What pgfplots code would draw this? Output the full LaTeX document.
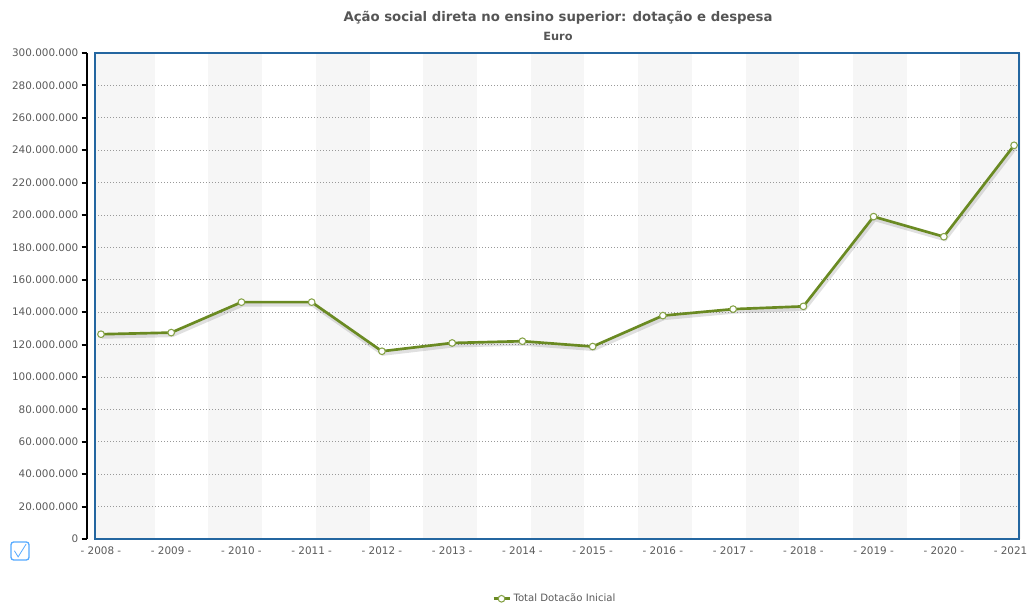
\documentclass[border=0pt]{standalone}
\usepackage{pgfplots}
\pgfplotsset{compat=1.18}
\usepackage{fontspec}
\setmainfont{DejaVu Sans}

\definecolor{titlegray}{HTML}{555555}
\definecolor{labelgray}{HTML}{5A5A5A}
\definecolor{framblue}{HTML}{2466A0}
\definecolor{olive}{HTML}{6A8A22}
\definecolor{markedge}{HTML}{86A347}
\definecolor{stripe}{HTML}{F6F6F6}
\definecolor{checkblue}{HTML}{55AAFF}

% Total Dotacao Inicial, euro
\pgfplotstableread{
year value
2008 126400000
2009 127400000
2010 146200000
2011 146200000
2012 115900000
2013 121000000
2014 122100000
2015 118800000
2016 137900000
2017 141900000
2018 143600000
2019 199000000
2020 186600000
2021 243000000
}\dotacao

\begin{document}
\begin{tikzpicture}
% titles
\node[font=\fontsize{9.95}{11}\selectfont\bfseries, text=titlegray] at (418.5pt,438.75pt)
  {Ação social direta no ensino superior: dotação e despesa};
\node[font=\fontsize{8.5}{9}\selectfont\bfseries, text=titlegray] at (418.5pt,425.25pt) {Euro};

% checkbox
\draw[checkblue, line width=1pt, rounded corners=2pt, fill=white] (8.25pt,32.25pt) rectangle (21.75pt,45.75pt);
\draw[checkblue, line width=0.6pt] (10.8pt,39.2pt) -- (13.6pt,34.6pt) -- (19.6pt,44.2pt);

% main plot area
\begin{axis}[
  set layers,
  scale only axis,
  width=693pt, height=364.5pt,
  at={(71.25pt,48pt)}, anchor=south west,
  xmin=2007.915, xmax=2021.07,
  ymin=0, ymax=300000000,
  scaled y ticks=false,
  xtick={2008,2009,2010,2011,2012,2013,2014,2015,2016,2017,2018,2019,2020,2021},
  xticklabels={- 2008 -,- 2009 -,- 2010 -,- 2011 -,- 2012 -,- 2013 -,- 2014 -,- 2015 -,- 2016 -,- 2017 -,- 2018 -,- 2019 -,- 2020 -,- 2021 -},
  xticklabel style={font=\fontsize{7.8}{9}\selectfont, text=labelgray, yshift=-2.5pt},
  xtick style={draw=none},
  ytick={0,20000000,40000000,60000000,80000000,100000000,120000000,140000000,160000000,180000000,200000000,220000000,240000000,260000000,280000000,300000000},
  yticklabels={},
  ytick style={draw=none},
  ymajorgrids,
  grid style={dash pattern=on 0.75pt off 1.5pt, gray!80, line width=0.6pt},
  axis line style={framblue, line width=1.6pt},
  legend style={at={(0.498,-0.123)}, anchor=center, draw=none, fill=none,
    font=\fontsize{7.6}{9}\selectfont, text=labelgray},
  legend image code/.code={%
    \draw[mark repeat=2, mark phase=2] plot coordinates {(0pt,0pt) (6pt,0pt) (12pt,0pt)};},
]
\begin{pgfonlayer}{axis background}
  \fill[stripe] (axis cs:2007.9,0) rectangle (axis cs:2008.7647,300000000);
  \fill[stripe] (axis cs:2009.5294,0) rectangle (axis cs:2010.2941,300000000);
  \fill[stripe] (axis cs:2011.0588,0) rectangle (axis cs:2011.8235,300000000);
  \fill[stripe] (axis cs:2012.5882,0) rectangle (axis cs:2013.3529,300000000);
  \fill[stripe] (axis cs:2014.1176,0) rectangle (axis cs:2014.8824,300000000);
  \fill[stripe] (axis cs:2015.6471,0) rectangle (axis cs:2016.4118,300000000);
  \fill[stripe] (axis cs:2017.1765,0) rectangle (axis cs:2017.9412,300000000);
  \fill[stripe] (axis cs:2018.7059,0) rectangle (axis cs:2019.4706,300000000);
  \fill[stripe] (axis cs:2020.2353,0) rectangle (axis cs:2021.1,300000000);
\end{pgfonlayer}
% soft shadow under the line
\addplot[forget plot, black, opacity=0.12, line width=3.2pt, xshift=0.8pt, yshift=-1.8pt]
  table[x=year, y=value] {\dotacao};
\addplot[olive, line width=2pt, mark=*, mark size=2.5pt,
  mark options={fill=white, draw=markedge, line width=0.8pt}]
  table[x=year, y=value] {\dotacao};
\addlegendentry{Total Dotacão Inicial}
\end{axis}

% value axis, set off to the left of the frame
\begin{axis}[
  scale only axis,
  width=1pt, height=364.5pt,
  at={(65.25pt,48pt)}, anchor=south west,
  xmin=0, xmax=1,
  ymin=0, ymax=300000000,
  scaled y ticks=false,
  hide x axis,
  axis y line=left,
  y axis line style={-, black, line width=1.8pt},
  ytick={0,20000000,40000000,60000000,80000000,100000000,120000000,140000000,160000000,180000000,200000000,220000000,240000000,260000000,280000000,300000000},
  yticklabels={0,20.000.000,40.000.000,60.000.000,80.000.000,100.000.000,120.000.000,140.000.000,160.000.000,180.000.000,200.000.000,220.000.000,240.000.000,260.000.000,280.000.000,300.000.000},
  yticklabel style={font=\fontsize{7.8}{9}\selectfont, text=labelgray, xshift=1pt},
  tick align=outside,
  major tick length=4pt,
  ytick style={black, line width=1.4pt},
]
\addplot[draw=none, forget plot] coordinates {(0,0) (1,300000000)};
\end{axis}

% page area
\pgfresetboundingbox
\path[use as bounding box] (0,0) rectangle (770.25pt,452.25pt);
\end{tikzpicture}
\end{document}
